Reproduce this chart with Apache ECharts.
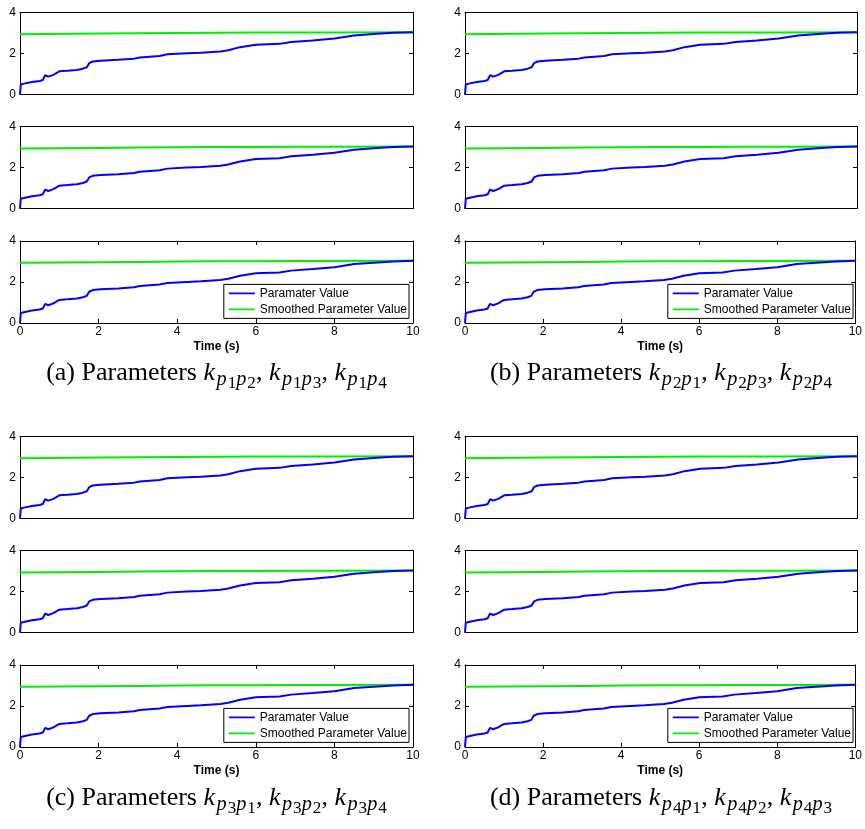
<!DOCTYPE html>
<html>
<head>
<meta charset="utf-8">
<script src="https://cdn.jsdelivr.net/npm/echarts@6/dist/echarts.min.js"></script>
<style>
  html, body { margin: 0; padding: 0; background: #fff; }
  #chart { width: 865px; height: 829px; }
</style>
</head>
<body>
<div id="chart"></div>
<script>
// raw parameter trace (same in every subplot)
const blueTime = [0, 0.02, 0.1, 0.3, 0.5, 0.58, 0.64, 0.72, 0.85, 1.0, 1.2, 1.45, 1.6, 1.7, 1.76, 1.85, 2.05, 2.5, 2.9, 3.05, 3.55, 3.75, 4.25, 4.6, 5.1, 5.3, 5.6, 6.0, 6.6, 6.9, 7.45, 8.0, 8.5, 9.0, 9.5, 10];
const blueValue = [0, 0.48, 0.52, 0.6, 0.65, 0.7, 0.93, 0.86, 0.95, 1.12, 1.15, 1.19, 1.25, 1.32, 1.52, 1.6, 1.64, 1.68, 1.74, 1.8, 1.87, 1.95, 2.0, 2.03, 2.09, 2.15, 2.3, 2.42, 2.46, 2.55, 2.63, 2.72, 2.87, 2.94, 3.0, 3.03];
// smoothed trace
const greenTime = [0, 2, 4, 6, 8, 10];
const greenValue = [2.93, 2.96, 2.99, 3.01, 3.02, 3.03];

const seriesNames = ['Paramater Value', 'Smoothed Parameter Value'];
const seriesColors = ['#0000ff', '#00ee00'];
const panelLetters = ['a', 'b', 'c', 'd'];
const panelOwner = [1, 2, 3, 4];
const panelPairs = [[2, 3, 4], [1, 3, 4], [1, 2, 4], [1, 2, 3]];

const colLeft = [20, 465];
const colWidth = [393, 392];
const rowTop = [12.3, 436.3];
const subStep = 114.3;
const subHeight = 82;
const captionBaseline = [381, 806];

const chart = echarts.init(document.getElementById('chart'));

const grid = [], xAxis = [], yAxis = [], series = [], legend = [], graphic = [];
const axisFont = { fontFamily: '"Liberation Sans", Arial, sans-serif', fontSize: 12, color: '#000' };
const blackLine = { show: true, onZero: false, lineStyle: { color: '#000', width: 1 } };
// a plain line sample for the legend (thin slivers at top/bottom keep the 26x12 box)
const lineIcon = 'path://M0,0L26,0L26,0.01L0,0.01ZM0,5.1L26,5.1L26,6.9L0,6.9ZM0,11.99L26,11.99L26,12L0,12Z';

for (let p = 0; p < 4; p++) {
  const col = p % 2, row = Math.floor(p / 2);
  for (let s = 0; s < 3; s++) {
    const g = grid.length;
    const last = s === 2;
    grid.push({ left: colLeft[col], width: colWidth[col], top: rowTop[row] + s * subStep, height: subHeight, containLabel: false });
    const tick = { show: last, inside: true, length: 4, lineStyle: { color: '#000' } };
    xAxis.push({
      type: 'value', gridIndex: g, position: 'bottom', min: 0, max: 10, interval: 2,
      axisLine: blackLine, axisTick: tick, splitLine: { show: false },
      axisLabel: Object.assign({ show: last, margin: 3 }, axisFont),
      name: last ? 'Time (s)' : '', nameLocation: 'middle', nameGap: 18,
      nameTextStyle: Object.assign({}, axisFont, { fontWeight: 'bold' })
    });
    xAxis.push({
      type: 'value', gridIndex: g, position: 'top', min: 0, max: 10, interval: 2,
      axisLine: blackLine, axisTick: tick, splitLine: { show: false }, axisLabel: { show: false }
    });
    const ytick = { show: true, inside: true, length: 4, lineStyle: { color: '#000' } };
    yAxis.push({
      type: 'value', gridIndex: g, position: 'left', min: 0, max: 4, interval: 2,
      axisLine: blackLine, axisTick: ytick, splitLine: { show: false },
      axisLabel: Object.assign({ margin: 4 }, axisFont)
    });
    yAxis.push({
      type: 'value', gridIndex: g, position: 'right', min: 0, max: 4, interval: 2,
      axisLine: blackLine, axisTick: ytick, splitLine: { show: false }, axisLabel: { show: false }
    });
    const xi = g * 2, yi = g * 2;
    series.push({
      name: seriesNames[0], type: 'line', xAxisIndex: xi, yAxisIndex: yi,
      data: blueTime.map((t, i) => [t, blueValue[i]]),
      symbol: 'none', lineStyle: { color: seriesColors[0], width: 2 }, itemStyle: { color: seriesColors[0] },
      z: 3
    });
    series.push({
      name: seriesNames[1], type: 'line', xAxisIndex: xi, yAxisIndex: yi,
      data: greenTime.map((t, i) => [t, greenValue[i]]), smooth: true,
      symbol: 'none', lineStyle: { color: seriesColors[1], width: 2 }, itemStyle: { color: seriesColors[1] },
      z: 2
    });
  }
  const plotRight = colLeft[col] + colWidth[col];
  legend.push({
    data: seriesNames, orient: 'vertical', right: 865 - (plotRight - 4),
    top: rowTop[row] + 2 * subStep + 43.5,
    icon: lineIcon, symbolKeepAspect: false,
    itemWidth: 26, itemHeight: 12, itemGap: 4, padding: [3, 2, 3, 5],
    backgroundColor: '#fff', borderColor: '#000', borderWidth: 1, borderRadius: 0,
    itemStyle: { borderWidth: 0 },
    textStyle: Object.assign({}, axisFont), selectedMode: false, z: 10
  });
}

// captions built from measured pieces (math-style subscripts)
const ctx = document.createElement('canvas').getContext('2d');
const F = 26;
const serif = '"Liberation Serif", "Times New Roman", serif';
function fontStr(size, italic) { return (italic ? 'italic ' : '') + size + 'px ' + serif; }
for (let p = 0; p < 4; p++) {
  const col = p % 2, row = Math.floor(p / 2);
  const pieces = [{ t: '(' + panelLetters[p] + ') Parameters ', size: F, it: false, dy: 0, gap: 0 }];
  panelPairs[p].forEach((j, k) => {
    pieces.push({ t: 'k', size: F, it: true, dy: 0, gap: 1.5 });
    pieces.push({ t: 'p', size: F * 0.78, it: true, dy: F * 0.2, gap: 1 });
    pieces.push({ t: String(panelOwner[p]), size: F * 0.66, it: false, dy: F * 0.3, gap: 0 });
    pieces.push({ t: 'p', size: F * 0.78, it: true, dy: F * 0.2, gap: 1 });
    pieces.push({ t: String(j), size: F * 0.66, it: false, dy: F * 0.3, gap: 0 });
    if (k < 2) pieces.push({ t: ', ', size: F, it: false, dy: 0, gap: 0 });
  });
  let total = 0;
  pieces.forEach(pc => { ctx.font = fontStr(pc.size, pc.it); pc.w = ctx.measureText(pc.t).width + pc.gap; total += pc.w; });
  let x = colLeft[col] + colWidth[col] / 2 - total / 2;
  pieces.forEach(pc => {
    graphic.push({
      type: 'text', x: x, y: captionBaseline[row] + pc.dy - 0.32 * pc.size,
      style: { text: pc.t, font: fontStr(pc.size, pc.it), fill: '#000', align: 'left', verticalAlign: 'middle' }
    });
    x += pc.w;
  });
}

chart.setOption({
  animation: false,
  backgroundColor: '#fff',
  grid, xAxis, yAxis, series, legend, graphic
});
</script>
</body>
</html>
